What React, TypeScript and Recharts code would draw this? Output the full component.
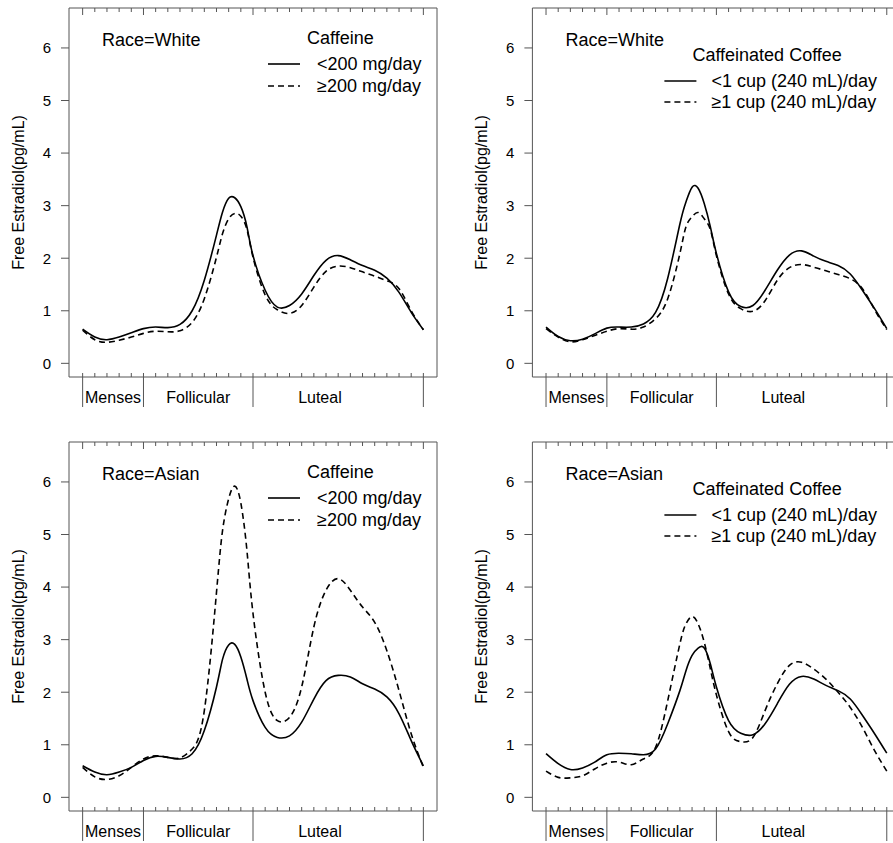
import { LineChart, Line, XAxis, YAxis, ReferenceArea } from "recharts";

const days = [0, 1, 2, 3, 4, 5, 6, 7, 8, 9, 10, 11, 11.5, 12, 12.5, 13, 13.5, 14, 15, 16, 17, 18, 19, 20, 21, 22, 23, 24, 25, 26, 27, 28];

// Race=White, caffeine
const whiteCaffeineLow = [0.65, 0.5, 0.45, 0.5, 0.58, 0.66, 0.69, 0.68, 0.74, 1.0, 1.58, 2.44, 2.88, 3.14, 3.15, 2.98, 2.6, 2.05, 1.39, 1.07, 1.1, 1.32, 1.67, 1.96, 2.05, 1.97, 1.86, 1.77, 1.62, 1.35, 0.97, 0.64];
const whiteCaffeineHigh = [0.63, 0.45, 0.4, 0.44, 0.5, 0.57, 0.61, 0.6, 0.62, 0.78, 1.23, 2.02, 2.47, 2.75, 2.85, 2.8, 2.55, 2.02, 1.3, 1.02, 0.95, 1.1, 1.45, 1.75, 1.85, 1.82, 1.74, 1.66, 1.57, 1.42, 1.0, 0.64];

// Race=White, caffeinated coffee
const whiteCoffeeLow = [0.69, 0.51, 0.43, 0.46, 0.56, 0.67, 0.69, 0.69, 0.75, 0.97, 1.62, 2.65, 3.07, 3.35, 3.33, 3.04, 2.6, 2.09, 1.36, 1.08, 1.1, 1.39, 1.77, 2.06, 2.14, 2.04, 1.94, 1.86, 1.7, 1.39, 1.04, 0.66];
const whiteCoffeeHigh = [0.66, 0.5, 0.41, 0.45, 0.53, 0.61, 0.66, 0.65, 0.69, 0.85, 1.23, 2.09, 2.6, 2.79, 2.87, 2.75, 2.55, 2.05, 1.32, 1.04, 0.99, 1.19, 1.58, 1.82, 1.88, 1.83, 1.76, 1.69, 1.61, 1.42, 1.02, 0.64];

// Race=Asian, caffeine
const asianCaffeineLow = [0.6, 0.48, 0.43, 0.48, 0.57, 0.7, 0.78, 0.76, 0.73, 0.83, 1.27, 2.1, 2.63, 2.9, 2.91, 2.67, 2.25, 1.84, 1.33, 1.14, 1.17, 1.43, 1.87, 2.22, 2.32, 2.29, 2.16, 2.06, 1.91, 1.59, 1.08, 0.6];
const asianCaffeineHigh = [0.57, 0.39, 0.34, 0.41, 0.57, 0.73, 0.79, 0.76, 0.75, 0.92, 1.65, 3.9, 5.08, 5.68, 5.92, 5.6, 4.7, 3.5, 2.0, 1.46, 1.52, 2.1, 3.24, 3.94, 4.16, 3.94, 3.62, 3.33, 2.79, 2.03, 1.21, 0.57];

// Race=Asian, caffeinated coffee
const asianCoffeeLow = [0.83, 0.64, 0.53, 0.56, 0.67, 0.81, 0.84, 0.83, 0.81, 0.92, 1.4, 2.03, 2.41, 2.7, 2.84, 2.84, 2.54, 2.1, 1.46, 1.22, 1.19, 1.4, 1.78, 2.15, 2.3, 2.25, 2.13, 2.03, 1.87, 1.56, 1.21, 0.84];
const asianCoffeeHigh = [0.5, 0.38, 0.37, 0.41, 0.54, 0.65, 0.67, 0.62, 0.73, 0.95, 1.84, 2.92, 3.3, 3.44, 3.3, 2.95, 2.45, 1.95, 1.25, 1.06, 1.14, 1.65, 2.16, 2.51, 2.57, 2.44, 2.25, 2.0, 1.71, 1.33, 0.89, 0.5];

const cycleTicks = [0, 1, 2, 3, 4, 5, 6, 7, 8, 9, 10, 11, 12, 13, 14, 15, 16, 17, 18, 19, 20, 21, 22, 23, 24, 25, 26, 27, 28];
const phaseBounds = [0, 5, 14, 28];
const phaseNames = ["Menses", "Follicular", "Luteal"];
const phaseLabelDays = [2.5, 9.5, 19.5];
const yTicks = [0, 1, 2, 3, 4, 5, 6];

const caffeineLabels = ["<200 mg/day", "\u2265200 mg/day"];
const coffeeLabels = ["<1 cup (240 mL)/day", "\u22651 cup (240 mL)/day"];

// R style 4% padding around xlim c(0,28), ylim c(0,6.5)
const X_DOMAIN: [number, number] = [-1.12, 29.12];
const Y_DOMAIN: [number, number] = [-0.26, 6.76];

const H = 420;
const TOP_AXIS_H = 8;
const PLOT_W = 368;
const PLOT_H = 369;
const Y_AXIS_W = 60;
const FRAME = "#555";

const bottomTicks = [...cycleTicks, ...phaseLabelDays].sort((a, b) => a - b);

function TopTick(props: any) {
  const { x, y, payload } = props;
  const len = phaseBounds.includes(payload.value) ? 7 : 4;
  return <line x1={x} x2={x} y1={y} y2={y + len} stroke={FRAME} />;
}

function BottomTick(props: any) {
  const { x, y, payload } = props;
  const k = phaseLabelDays.indexOf(payload.value);
  if (k >= 0) {
    return (
      <text x={x} y={y + 20} textAnchor="middle" dominantBaseline="central" fontSize={16} fill="#000">
        {phaseNames[k]}
      </text>
    );
  }
  const major = phaseBounds.includes(payload.value);
  return <line x1={x} x2={x} y1={y - 4} y2={major ? y + 30 : y} stroke={FRAME} />;
}

interface PanelProps {
  left: number;
  top: number;
  width: number;
  marginLeft: number;
  race: string;
  title: string;
  labels: string[];
  low: number[];
  high: number[];
  wide: boolean;
}

function Panel({ left, top, width, marginLeft, race, title, labels, low, high, wide }: PanelProps) {
  const data = days.map((d, i) => ({ day: d, low: low[i], high: high[i] }));
  const px = marginLeft + Y_AXIS_W;
  const py = TOP_AXIS_H;
  const lg = wide
    ? { title: 160, titleY: 47, x1: 132, x2: 164, y1: 73, y2: 94, text: 179 }
    : { title: 238, titleY: 30, x1: 199, x2: 231, y1: 56, y2: 78, text: 248 };

  return (
    <div style={{ position: "absolute", left, top, width, height: H }}>
      <LineChart
        width={width}
        height={H}
        data={data}
        margin={{ top: 0, right: width - px - PLOT_W, bottom: 0, left: marginLeft }}
      >
        <XAxis
          xAxisId="top"
          orientation="top"
          dataKey="day"
          type="number"
          domain={X_DOMAIN}
          allowDataOverflow
          ticks={cycleTicks}
          interval={0}
          height={TOP_AXIS_H}
          axisLine={false}
          tickLine={false}
          tickSize={0}
          tickMargin={0}
          tick={TopTick}
        />
        <XAxis
          xAxisId="bottom"
          dataKey="day"
          type="number"
          domain={X_DOMAIN}
          allowDataOverflow
          ticks={bottomTicks}
          interval={0}
          height={H - TOP_AXIS_H - PLOT_H}
          axisLine={false}
          tickLine={false}
          tickSize={0}
          tickMargin={0}
          tick={BottomTick}
        />
        <YAxis
          type="number"
          domain={Y_DOMAIN}
          allowDataOverflow
          ticks={yTicks}
          interval={0}
          width={Y_AXIS_W}
          axisLine={false}
          tickSize={8}
          tickMargin={10}
          tickLine={{ stroke: FRAME }}
          tick={{ fill: "#000", fontSize: 15 }}
          label={{
            content: () => (
              <text
                x={px - 51}
                y={py + PLOT_H / 2}
                transform={`rotate(-90 ${px - 51} ${py + PLOT_H / 2})`}
                textAnchor="middle"
                dominantBaseline="central"
                fontSize={16}
                fill="#000"
              >
                Free Estradiol(pg/mL)
              </text>
            ),
          }}
        />
        <ReferenceArea
          xAxisId="bottom"
          x1={X_DOMAIN[0]}
          x2={X_DOMAIN[1]}
          y1={Y_DOMAIN[0]}
          y2={Y_DOMAIN[1]}
          fill="none"
          fillOpacity={0}
          stroke={FRAME}
          strokeWidth={1}
          ifOverflow="visible"
        />
        <Line xAxisId="bottom" dataKey="low" type="natural" stroke="#000" strokeWidth={1.6} dot={false} isAnimationActive={false} />
        <Line xAxisId="bottom" dataKey="high" type="natural" stroke="#000" strokeWidth={1.6} strokeDasharray="6 4" dot={false} isAnimationActive={false} />
      </LineChart>
      <svg width={width} height={H} style={{ position: "absolute", left: 0, top: 0, pointerEvents: "none" }}>
        <g fontSize={18} fill="#000">
          <text x={px + 33} y={py + 32} dominantBaseline="central">{race}</text>
          <text x={px + lg.title} y={py + lg.titleY} dominantBaseline="central">{title}</text>
          <line x1={px + lg.x1} x2={px + lg.x2} y1={py + lg.y1} y2={py + lg.y1} stroke="#000" strokeWidth={1.6} />
          <line x1={px + lg.x1} x2={px + lg.x2} y1={py + lg.y2} y2={py + lg.y2} stroke="#000" strokeWidth={1.6} strokeDasharray="6 4" />
          <text x={px + lg.text} y={py + lg.y1} dominantBaseline="central">{labels[0]}</text>
          <text x={px + lg.text} y={py + lg.y2} dominantBaseline="central">{labels[1]}</text>
        </g>
      </svg>
    </div>
  );
}

export default function App() {
  return (
    <div
      style={{
        position: "absolute",
        left: 0,
        top: 0,
        width: 893,
        height: 843,
        overflow: "hidden",
        background: "#fff",
        fontFamily: "'Liberation Sans', Arial, sans-serif",
      }}
    >
      <Panel left={0} top={0} width={446} marginLeft={9} race="Race=White" title="Caffeine" labels={caffeineLabels} low={whiteCaffeineLow} high={whiteCaffeineHigh} wide={false} />
      <Panel left={446} top={0} width={460} marginLeft={26.4} race="Race=White" title="Caffeinated Coffee" labels={coffeeLabels} low={whiteCoffeeLow} high={whiteCoffeeHigh} wide={true} />
      <Panel left={0} top={434} width={446} marginLeft={9} race="Race=Asian" title="Caffeine" labels={caffeineLabels} low={asianCaffeineLow} high={asianCaffeineHigh} wide={false} />
      <Panel left={446} top={434} width={460} marginLeft={26.4} race="Race=Asian" title="Caffeinated Coffee" labels={coffeeLabels} low={asianCoffeeLow} high={asianCoffeeHigh} wide={true} />
    </div>
  );
}
